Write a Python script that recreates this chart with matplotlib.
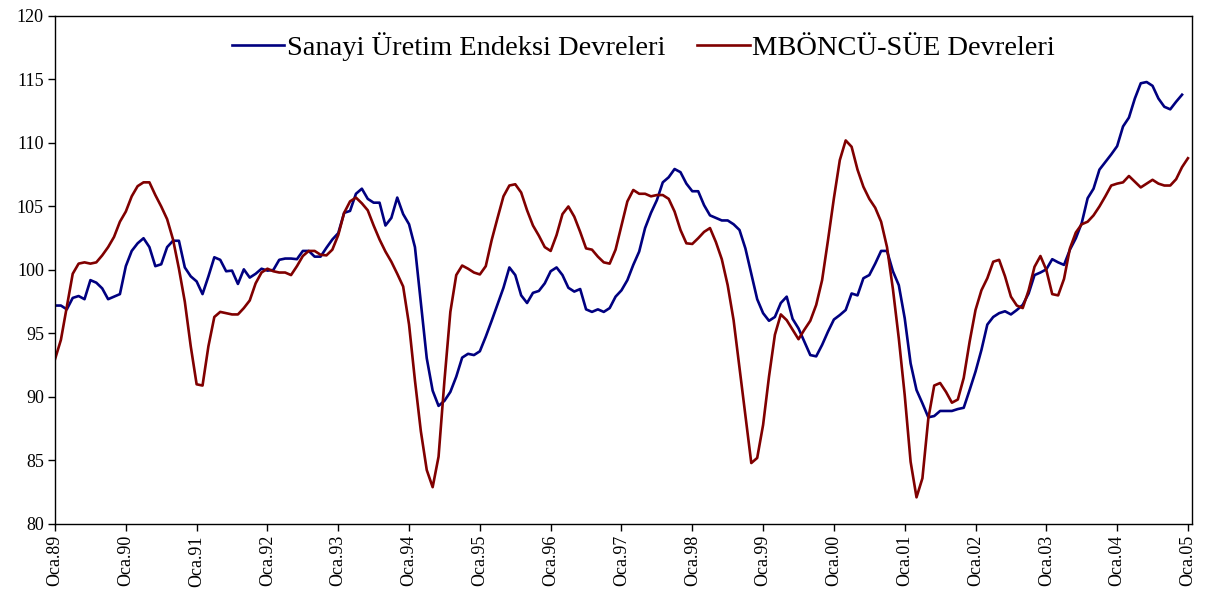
import numpy as np
import matplotlib
matplotlib.use("Agg")
import matplotlib.pyplot as plt

# monthly cycles, Ocak 1989 onwards
sue = [97.2, 97.2, 96.9, 97.8, 97.95, 97.7, 99.2, 99.0, 98.55, 97.7, 97.9, 98.1,
       100.3, 101.5, 102.1, 102.5, 101.8, 100.3, 100.45, 101.8, 102.3, 102.3, 100.2, 99.5,
       99.1, 98.1, 99.5, 101.0, 100.8, 99.9, 99.95, 98.9, 100.05, 99.4, 99.7, 100.1,
       99.95, 100.0, 100.8, 100.9, 100.9, 100.85, 101.5, 101.5, 101.05, 101.05, 101.75, 102.4,
       102.9, 104.5, 104.65, 106.0, 106.4, 105.6, 105.3, 105.3, 103.5, 104.1, 105.7, 104.4,
       103.6, 101.8, 97.4, 93.05, 90.5, 89.3, 89.7, 90.4, 91.6, 93.1, 93.4, 93.3,
       93.6, 94.75, 96.0, 97.3, 98.6, 100.2, 99.6, 98.0, 97.4, 98.2, 98.35, 98.95,
       99.9, 100.2, 99.6, 98.6, 98.3, 98.5, 96.9, 96.7, 96.9, 96.7, 97.0, 97.9,
       98.4, 99.2, 100.4, 101.45, 103.3, 104.5, 105.5, 106.9, 107.3, 107.95, 107.7, 106.8,
       106.2, 106.2, 105.1, 104.3, 104.1, 103.9, 103.9, 103.6, 103.15, 101.7, 99.7, 97.7,
       96.6, 96.0, 96.3, 97.4, 97.9, 96.15, 95.4, 94.35, 93.3, 93.2, 94.1, 95.15,
       96.1, 96.45, 96.85, 98.15, 98.0, 99.35, 99.6, 100.5, 101.5, 101.5, 99.9, 98.8,
       96.2, 92.65, 90.55, 89.5, 88.4, 88.5, 88.9, 88.9, 88.9, 89.05, 89.15, 90.55,
       92.0, 93.7, 95.7, 96.3, 96.6, 96.75, 96.5, 96.85, 97.25, 98.15, 99.6, 99.8,
       100.05, 100.85, 100.6, 100.4, 101.6, 102.5, 103.7, 105.65, 106.4, 107.9, 108.5, 109.1,
       109.75, 111.3, 112.0, 113.5, 114.7, 114.8, 114.5, 113.5, 112.85, 112.65, 113.25, 113.8]

mboncu = [92.97, 94.5, 97.1, 99.7, 100.5, 100.6, 100.5, 100.6, 101.15, 101.8, 102.6, 103.8,
          104.6, 105.8, 106.6, 106.9, 106.9, 105.9, 105.0, 104.0, 102.4, 100.1, 97.5, 94.0,
          91.0, 90.9, 94.0, 96.3, 96.7, 96.6, 96.5, 96.5, 97.0, 97.6, 98.95, 99.8,
          100.1, 99.9, 99.8, 99.8, 99.6, 100.3, 101.1, 101.5, 101.5, 101.2, 101.15, 101.6,
          102.75, 104.5, 105.4, 105.7, 105.25, 104.7, 103.5, 102.4, 101.45, 100.65, 99.7, 98.7,
          95.7, 91.3, 87.3, 84.25, 82.9, 85.3, 91.3, 96.7, 99.6, 100.35, 100.1, 99.8,
          99.65, 100.3, 102.35, 104.1, 105.8, 106.65, 106.75, 106.1, 104.7, 103.5, 102.7, 101.8,
          101.5, 102.75, 104.4, 105.0, 104.2, 103.0, 101.7, 101.6, 101.05, 100.6, 100.5, 101.6,
          103.5, 105.4, 106.3, 106.0, 106.0, 105.8, 105.9, 105.9, 105.6, 104.6, 103.15, 102.1,
          102.05, 102.5, 103.0, 103.3, 102.2, 100.85, 98.8, 96.05, 92.3, 88.5, 84.8, 85.2,
          87.8, 91.6, 94.9, 96.5, 96.05, 95.3, 94.55, 95.3, 96.0, 97.25, 99.2, 102.35,
          105.65, 108.65, 110.2, 109.7, 107.9, 106.55, 105.6, 104.9, 103.8, 101.8, 98.5, 94.6,
          90.15, 84.9, 82.1, 83.6, 88.3, 90.9, 91.1, 90.4, 89.55, 89.8, 91.5, 94.35,
          96.85, 98.4, 99.35, 100.65, 100.8, 99.5, 97.9, 97.2, 97.0, 98.4, 100.25, 101.1,
          100.0, 98.1, 98.0, 99.3, 101.7, 102.95, 103.6, 103.8, 104.3, 105.0, 105.8, 106.65,
          106.8, 106.9, 107.4, 106.95, 106.5, 106.8, 107.1, 106.8, 106.65, 106.65, 107.15, 108.1,
          108.8]

years = list(range(89, 100)) + list(range(0, 6))
tick_labels = ['Oca.%02d' % y for y in years]

fig = plt.figure(figsize=(12.09, 6.05), dpi=100)
ax = fig.add_axes([0.0455, 0.1339, 0.9405, 0.8397])

ax.plot(np.arange(len(sue)), sue, color='#000080', lw=1.9, label='Sanayi Üretim Endeksi Devreleri')
ax.plot(np.arange(len(mboncu)), mboncu, color='#800000', lw=1.9, label='MBÖNCÜ-SÜE Devreleri')

ax.set_xlim(0, 192.7)
ax.set_ylim(80, 120)
ax.set_yticks(np.arange(80, 121, 5))
ax.set_xticks(np.arange(0, 193, 12))
ax.set_xticklabels(tick_labels, rotation=90, fontfamily='Liberation Serif', fontsize=13)
for t in ax.get_yticklabels():
    t.set_fontfamily('Liberation Serif')
    t.set_fontsize(13)
ax.tick_params(axis='both', direction='out', length=5, width=1, pad=3)
for s in ax.spines.values():
    s.set_linewidth(1.0)

ax.legend(loc='upper left', bbox_to_anchor=(0.1554, 0.969), ncol=2, frameon=False,
          prop={'family': 'Liberation Serif', 'size': 20.5}, handlelength=1.85,
          handletextpad=0.1, columnspacing=1.1, borderaxespad=0, borderpad=0)

fig.savefig('out.png', dpi=100)
